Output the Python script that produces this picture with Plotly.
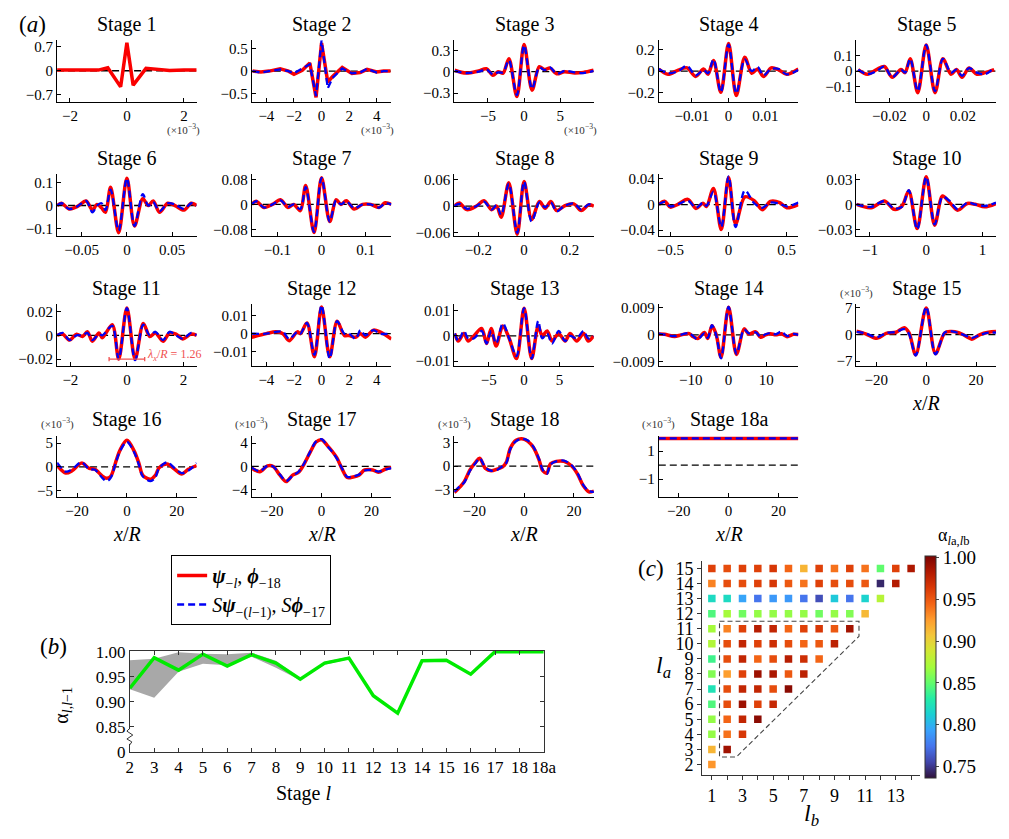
import plotly.graph_objects as go

W, H = 1009, 839
SERIF = "Liberation Serif, Times New Roman, DejaVu Serif, serif"
MINUS = "\u2212"
RED = "rgb(250,0,0)"
BLUE = "rgb(0,0,245)"

# ---------------- Panel (a): wavelets (x/R, amplitude) ----------------
# stages 1-3: x in units of 1e-3 ; stages 15-18a: amplitude in units of 1e-3
s1_x = [-2.45, -2.0, -1.5, -1.0, -0.67, -0.22, 0.0, 0.22, 0.67, 1.0, 1.5, 2.0, 2.45]
s1_red = [0.02, 0.02, 0.01, 0.02, 0.09, -0.47, 0.82, -0.42, 0.07, 0.04, 0.01, 0.02, 0.02]

s2_x = [-5.0, -4.4, -3.8, -3.0, -2.4, -2.0, -1.4, -0.85, -0.4, 0.0, 0.45, 0.8, 1.5, 2.2, 2.8, 3.3, 4.0, 4.5, 5.0]
s2_red = [0.0, -0.02, 0.0, 0.05, 0.0, -0.07, 0.02, 0.18, -0.58, 0.62, -0.24, -0.12, 0.08, -0.05, -0.03, 0.04, -0.02, 0.0, 0.0]
s2_blue = [0.0, -0.03, 0.0, 0.04, 0.0, -0.05, 0.06, 0.15, -0.55, 0.68, -0.38, -0.15, 0.06, -0.05, -0.03, 0.05, -0.03, 0.0, 0.0]

s3_x = [-9.6, -8.0, -6.3, -5.2, -4.3, -3.6, -2.9, -2.1, -1.0, 0.0, 1.1, 2.1, 2.8, 3.6, 4.5, 5.6, 7.0, 8.2, 9.6]
s3_red = [0.02, -0.02, 0.01, 0.04, -0.05, 0.0, -0.02, 0.18, -0.35, 0.38, -0.26, 0.07, 0.03, 0.05, -0.03, 0.0, -0.02, -0.01, 0.02]
s3_blue = [0.01, -0.02, 0.0, 0.03, -0.04, -0.01, -0.01, 0.16, -0.33, 0.37, -0.24, 0.06, 0.02, 0.06, -0.03, 0.01, -0.01, -0.02, 0.01]

s4_x = [-0.019, -0.0165, -0.0137, -0.0113, -0.009, -0.0068, -0.0056, -0.0041, -0.0021, 0.0, 0.0021, 0.0044, 0.0063, 0.0079, 0.0095, 0.0116, 0.0137, 0.0158, 0.019]
s4_red = [0.02, -0.03, 0.01, 0.03, -0.05, 0.02, -0.03, 0.1, -0.2, 0.26, -0.23, 0.13, -0.02, 0.02, -0.05, 0.03, 0.01, -0.03, 0.02]
s4_blue = [0.02, -0.02, 0.0, 0.05, -0.04, 0.01, -0.02, 0.11, -0.2, 0.25, -0.21, 0.11, 0.0, 0.04, -0.04, 0.02, 0.02, -0.03, 0.01]

s5_x = [-0.037, -0.032, -0.027, -0.0228, -0.0185, -0.0137, -0.0115, -0.0087, -0.0046, 0.0, 0.0048, 0.0091, 0.0135, 0.0165, 0.0195, 0.0233, 0.0276, 0.032, 0.037]
s5_red = [0.01, -0.02, 0.01, 0.03, -0.04, 0.01, -0.01, 0.08, -0.14, 0.17, -0.14, 0.08, -0.02, 0.01, -0.04, 0.02, -0.02, -0.01, 0.01]
s5_blue = [0.01, -0.02, 0.0, 0.03, -0.04, 0.01, -0.01, 0.08, -0.13, 0.17, -0.13, 0.08, -0.01, 0.01, -0.03, 0.02, -0.01, -0.02, 0.02]

s6_x = [-0.077, -0.072, -0.064, -0.055, -0.045, -0.038, -0.033, -0.028, -0.0236, -0.018, -0.0091, 0.0, 0.0084, 0.0175, 0.0236, 0.029, 0.036, 0.045, 0.053, 0.063, 0.071, 0.077]
s6_red = [0.0, 0.01, -0.015, -0.005, 0.02, -0.02, 0.005, -0.01, -0.03, 0.08, -0.12, 0.12, -0.09, 0.03, 0.0, 0.02, -0.03, 0.01, 0.0, -0.02, 0.01, 0.0]
s6_blue = [0.0, 0.01, -0.015, -0.005, 0.02, -0.03, 0.0, 0.01, -0.02, 0.07, -0.11, 0.12, -0.09, 0.05, 0.0, 0.015, -0.025, 0.01, 0.005, -0.015, 0.01, 0.0]

s7_x = [-0.158, -0.148, -0.13, -0.111, -0.093, -0.076, -0.063, -0.048, -0.036, -0.017, 0.0, 0.0185, 0.033, 0.044, 0.056, 0.074, 0.093, 0.111, 0.13, 0.144, 0.158]
s7_red = [0.0, 0.01, -0.01, 0.0, 0.015, -0.01, 0.0, -0.02, 0.06, -0.09, 0.085, -0.055, 0.015, 0.0, 0.012, -0.015, 0.0, 0.0, -0.01, 0.005, 0.0]
s7_blue = [0.0, 0.01, -0.01, 0.0, 0.013, -0.008, 0.0, -0.015, 0.055, -0.088, 0.085, -0.055, 0.013, 0.0, 0.01, -0.012, 0.0, 0.0, -0.01, 0.003, 0.0]

s8_x = [-0.305, -0.283, -0.25, -0.208, -0.175, -0.142, -0.12, -0.1, -0.067, -0.03, 0.0, 0.033, 0.067, 0.092, 0.117, 0.142, 0.175, 0.217, 0.25, 0.283, 0.305]
s8_red = [0.0, 0.007, -0.008, 0.0, 0.012, -0.008, 0.0, -0.025, 0.052, -0.063, 0.055, -0.03, 0.01, -0.005, 0.01, -0.01, 0.0, 0.005, -0.01, 0.003, 0.0]
s8_blue = [0.0, 0.005, -0.006, 0.0, 0.01, -0.008, 0.002, -0.02, 0.05, -0.06, 0.055, -0.035, 0.008, -0.003, 0.008, -0.012, 0.0, 0.006, -0.008, 0.004, 0.0]

s9_x = [-0.6, -0.55, -0.5, -0.44, -0.35, -0.28, -0.22, -0.19, -0.13, -0.063, 0.0, 0.06, 0.14, 0.22, 0.29, 0.36, 0.44, 0.5, 0.6]
s9_red = [0.0, 0.005, -0.004, 0.0, 0.008, -0.006, 0.002, -0.003, 0.025, -0.039, 0.042, -0.03, 0.012, 0.006, -0.008, 0.005, 0.003, -0.005, 0.0]
s9_blue = [0.0, 0.004, -0.003, 0.0, 0.006, -0.005, 0.003, -0.002, 0.02, -0.035, 0.044, -0.035, 0.022, 0.002, -0.005, 0.003, 0.001, -0.003, 0.003]

s10_x = [-1.24, -0.98, -0.74, -0.57, -0.43, -0.31, -0.16, 0.0, 0.15, 0.29, 0.42, 0.56, 0.73, 0.87, 1.04, 1.24]
s10_red = [0.0, -0.004, 0.004, -0.006, -0.002, 0.016, -0.029, 0.033, -0.025, 0.01, 0.002, -0.007, 0.001, 0.0, -0.003, 0.001]
s10_blue = [0.0, -0.003, 0.004, -0.005, -0.003, 0.017, -0.03, 0.033, -0.024, 0.009, 0.004, -0.006, 0.002, 0.0, -0.002, 0.002]

s11_x = [-2.47, -2.27, -2.03, -1.78, -1.57, -1.4, -1.22, -0.99, -0.87, -0.52, -0.29, 0.0, 0.29, 0.58, 0.81, 1.01, 1.28, 1.51, 1.74, 1.98, 2.27, 2.47]
s11_red = [0.0, 0.001, -0.004, 0.001, -0.001, 0.003, -0.005, 0.002, -0.002, 0.009, -0.02, 0.023, -0.02, 0.01, -0.001, 0.002, -0.005, 0.002, 0.001, -0.003, 0.001, 0.0]
s11_blue = [0.0, 0.002, -0.004, 0.0, 0.0, 0.002, -0.004, 0.001, 0.0, 0.008, -0.02, 0.023, -0.021, 0.009, 0.0, 0.003, -0.004, 0.003, 0.0, -0.003, 0.002, 0.0]

s12_x = [-5.06, -4.0, -3.3, -2.8, -2.35, -1.76, -1.53, -1.06, -0.52, 0.0, 0.59, 1.13, 1.65, 2.0, 2.47, 2.82, 3.18, 3.76, 4.24, 5.06]
s12_red = [-0.002, 0.0, 0.001, 0.0, -0.004, 0.001, 0.0, 0.006, -0.013, 0.015, -0.013, 0.007, -0.001, -0.001, -0.002, 0.0, -0.002, 0.002, 0.001, -0.003]
s12_blue = [0.0, 0.0, 0.001, 0.001, -0.003, 0.001, 0.0, 0.006, -0.012, 0.016, -0.014, 0.007, 0.0, 0.0, -0.003, 0.002, -0.001, 0.002, 0.0, 0.0]

s13_x = [-9.8, -9.3, -8.5, -7.9, -7.1, -6.0, -5.3, -4.65, -3.95, -3.0, -2.1, -1.07, 0.0, 1.07, 2.0, 2.56, 3.26, 3.95, 4.88, 5.8, 6.5, 7.44, 8.4, 9.07, 9.8]
s13_red = [0.001, -0.002, 0.001, -0.002, 0.0, 0.003, -0.003, 0.003, -0.004, 0.004, -0.001, -0.009, 0.011, -0.009, 0.004, 0.0, 0.002, -0.002, 0.001, -0.002, 0.001, -0.002, 0.001, -0.002, 0.0]
s13_blue = [0.001, -0.002, 0.002, -0.001, -0.001, 0.002, -0.003, 0.002, -0.003, 0.005, -0.001, -0.008, 0.011, -0.009, 0.006, -0.001, 0.001, -0.003, 0.002, -0.002, 0.0, -0.001, 0.002, -0.001, 0.0]

s14_x = [-18.5, -17.0, -14.3, -12.5, -10.4, -9.5, -8.2, -6.4, -5.5, -4.4, -3.3, -2.0, 0.0, 2.1, 4.1, 5.4, 7.2, 8.5, 9.8, 11.1, 12.5, 14.0, 15.5, 17.2, 18.5]
s14_red = [0.0003, 0.0002, -0.0005, 0.0, 0.0004, -0.0005, -0.0012, 0.0008, -0.0012, 0.003, 0.0002, -0.0075, 0.0092, -0.0065, 0.002, 0.0003, 0.001, -0.0008, 0.0, 0.0004, 0.0, 0.0004, -0.0006, 0.0002, 0.0001]
s14_blue = [0.0004, 0.0001, -0.0004, 0.0001, 0.0006, -0.0003, -0.0015, 0.0005, -0.001, 0.0032, 0.0, -0.0078, 0.0093, -0.0063, 0.0018, 0.0005, 0.0008, -0.0006, 0.0002, 0.0006, 0.0002, 0.0011, -0.0004, 0.0003, 0.0]

s15_x = [-28.0, -24.3, -19.8, -16.1, -12.1, -8.8, -6.9, -4.2, 0.0, 3.7, 7.4, 9.7, 13.0, 17.0, 18.3, 21.6, 25.0, 28.0]
s15_red = [0.9, 0.2, -1.0, 0.3, 0.6, 1.8, 0.5, -5.3, 7.0, -5.0, 0.4, 0.8, 0.5, -0.8, -1.2, 0.0, 0.6, 0.8]
s15_blue = [0.7, 0.3, -0.7, 0.4, 0.7, 1.4, 0.2, -5.5, 7.3, -5.2, 0.5, 0.9, 0.4, -0.6, -0.9, -0.1, 0.5, 0.5]

s16_x = [-28.0, -24.5, -22.0, -18.2, -15.1, -12.8, -9.7, -8.1, -6.5, -4.2, -2.7, 0.0, 2.8, 4.8, 6.4, 9.5, 11.4, 12.9, 16.1, 19.2, 22.0, 24.6, 28.0]
s16_red = [0.3, -1.3, -0.8, 0.8, -0.3, -0.5, -2.0, -2.4, -2.0, 1.5, 3.6, 5.6, 3.5, 0.8, -1.8, -2.6, -1.8, -0.2, 0.6, -0.5, -1.5, -0.5, 0.3]
s16_blue = [0.9, -1.0, -0.5, 1.0, -0.5, -0.6, -2.4, -3.0, -2.3, 1.3, 3.4, 5.3, 3.2, 0.5, -2.0, -3.0, -2.2, -0.3, 1.0, -0.3, -1.3, -0.8, 0.8]

s17_x = [-28.0, -24.8, -21.7, -19.4, -16.7, -14.2, -11.6, -9.2, -6.9, -4.5, -2.2, 0.0, 2.5, 4.1, 6.1, 8.3, 10.3, 12.7, 15.0, 17.3, 20.5, 22.8, 25.9, 28.0]
s17_red = [-0.3, -0.9, 0.1, 0.0, -1.5, -2.6, -1.5, -1.0, 0.5, 2.5, 4.2, 4.6, 3.5, 2.7, 1.5, -0.5, -1.9, -1.8, -1.5, -0.6, -0.6, -1.0, -0.4, -0.2]
s17_blue = [-0.2, -0.8, 0.1, 0.0, -1.4, -2.5, -1.6, -0.9, 0.6, 2.6, 4.3, 4.7, 3.4, 2.6, 1.4, -0.4, -1.8, -1.7, -1.4, -0.7, -0.6, -0.9, -0.5, -0.3]

s18_x = [-28.0, -25.5, -24.0, -21.7, -19.4, -17.8, -15.5, -13.2, -10.9, -8.6, -7.1, -5.5, -3.2, -0.9, 1.4, 3.7, 6.0, 7.5, 9.1, 10.6, 12.9, 16.0, 19.1, 21.4, 23.7, 26.0, 28.0]
s18_red = [-3.4, -2.6, -2.0, -0.5, 0.5, 1.0, -0.3, -0.6, -0.4, -0.1, 0.5, 2.3, 3.3, 3.5, 3.2, 2.4, 0.8, -0.6, -0.9, 0.3, 0.6, 0.6, 0.0, -1.0, -2.5, -3.3, -3.2]
s18_blue = [-3.3, -2.5, -2.1, -0.6, 0.4, 1.0, -0.2, -0.6, -0.5, 0.0, 0.4, 2.2, 3.2, 3.5, 3.3, 2.5, 0.9, -0.5, -1.0, 0.2, 0.6, 0.7, 0.1, -0.9, -2.4, -3.2, -3.3]

s18a_x = [-28.0, 28.0]
s18a_red = [1.9, 1.9]
s18a_blue = [1.9, 1.9]

stage_names = ["1", "2", "3", "4", "5", "6", "7", "8", "9", "10",
               "11", "12", "13", "14", "15", "16", "17", "18", "18a"]
stage_series = [
    (s1_x, s1_red, None), (s2_x, s2_red, s2_blue), (s3_x, s3_red, s3_blue),
    (s4_x, s4_red, s4_blue), (s5_x, s5_red, s5_blue), (s6_x, s6_red, s6_blue),
    (s7_x, s7_red, s7_blue), (s8_x, s8_red, s8_blue), (s9_x, s9_red, s9_blue),
    (s10_x, s10_red, s10_blue), (s11_x, s11_red, s11_blue), (s12_x, s12_red, s12_blue),
    (s13_x, s13_red, s13_blue), (s14_x, s14_red, s14_blue), (s15_x, s15_red, s15_blue),
    (s16_x, s16_red, s16_blue), (s17_x, s17_red, s17_blue), (s18_x, s18_red, s18_blue),
    (s18a_x, s18a_red, s18a_blue),
]
# axis ranges and tick values per stage
x_half = [2.45, 5.06, 9.65, 0.019, 0.038, 0.077, 0.158, 0.305, 0.6, 1.24,
          2.47, 5.06, 9.86, 18.5, 28, 28, 28, 28, 28]
y_lo = [-0.91, -0.68, -0.425, -0.29, -0.2, -0.134, -0.101, -0.067, -0.049, -0.038,
        -0.026, -0.0183, -0.012, -0.0104, -8.3, -6.4, -5.3, -4.0, -2.3]
y_hi = [0.89, 0.68, 0.44, 0.29, 0.2, 0.137, 0.096, 0.071, 0.047, 0.036,
        0.026, 0.0164, 0.0125, 0.0101, 7.9, 6.6, 5.3, 3.9, 2.1]
x_ticks = [[-2, 0, 2], [-4, -2, 0, 2, 4], [-5, 0, 5], [-0.01, 0, 0.01], [-0.02, 0, 0.02],
           [-0.05, 0, 0.05], [-0.1, 0, 0.1], [-0.2, 0, 0.2], [-0.5, 0, 0.5], [-1, 0, 1],
           [-2, 0, 2], [-4, -2, 0, 2, 4], [-5, 0, 5], [-10, 0, 10], [-20, 0, 20],
           [-20, 0, 20], [-20, 0, 20], [-20, 0, 20], [-20, 0, 20]]
y_ticks = [[-0.7, 0, 0.7], [-0.5, 0, 0.5], [-0.3, 0, 0.3], [-0.2, 0, 0.2], [-0.1, 0, 0.1],
           [-0.1, 0, 0.1], [-0.08, 0, 0.08], [-0.06, 0, 0.06], [-0.04, 0, 0.04], [-0.03, 0, 0.03],
           [-0.02, 0, 0.02], [-0.01, 0, 0.01], [-0.01, 0, 0.01], [-0.009, 0, 0.009], [-7, 0, 7],
           [-5, 0, 5], [-4, 0, 4], [-3, 0, 3], [-1, 1]]
lambda_x = 1.26  # wavelength marked in stage 11

# ---------------- Panel (b) data ----------------
b_stages = ["2", "3", "4", "5", "6", "7", "8", "9", "10", "11", "12", "13",
            "14", "15", "16", "17", "18", "18a"]
b_alpha = [0.927, 0.988, 0.963, 0.995, 0.971, 0.994, 0.977, 0.945, 0.977, 0.987,
           0.912, 0.877, 0.982, 0.983, 0.955, 1.0, 1.0, 1.0]
band_stages = ["2", "3", "4", "5", "6", "7", "8", "9", "10", "11"]
band_lo = [0.925, 0.908, 0.96, 0.976, 0.973, 0.99, 0.968, 0.943, 0.974, 0.985]
band_hi = [0.983, 0.986, 0.999, 0.996, 0.995, 0.998, 0.982, 0.947, 0.98, 0.99]

# ---------------- Panel (c) data: alpha_{la,lb}, lb = 1..la-1 ----------------
alpha_2 = [0.928]
alpha_3 = [0.915, 0.989]
alpha_4 = [0.865, 0.94, 0.965]
alpha_5 = [0.865, 0.945, 0.975, 0.996]
alpha_6 = [0.845, 0.955, 0.99, 0.96, 0.973]
alpha_7 = [0.825, 0.955, 0.975, 0.975, 0.955, 0.996]
alpha_8 = [0.86, 0.925, 0.96, 0.99, 0.985, 0.95, 0.978]
alpha_9 = [0.84, 0.955, 0.975, 0.945, 0.955, 0.98, 0.97, 0.945]
alpha_10 = [0.875, 0.955, 0.975, 0.96, 0.97, 0.955, 0.945, 0.95, 0.978]
alpha_11 = [0.87, 0.935, 0.96, 0.98, 0.975, 0.945, 0.96, 0.965, 0.95, 0.988]
alpha_12 = [0.845, 0.87, 0.855, 0.865, 0.865, 0.865, 0.865, 0.855, 0.865, 0.86, 0.913]
alpha_13 = [0.82, 0.82, 0.795, 0.775, 0.79, 0.79, 0.775, 0.76, 0.81, 0.775, 0.815, 0.877]
alpha_14 = [0.935, 0.955, 0.955, 0.96, 0.965, 0.95, 0.94, 0.96, 0.955, 0.955, 0.95, 0.745, 0.982]
alpha_15 = [0.96, 0.955, 0.96, 0.96, 0.965, 0.945, 0.915, 0.96, 0.94, 0.96, 0.94, 0.85, 0.96, 0.984]
alpha_rows = [alpha_2, alpha_3, alpha_4, alpha_5, alpha_6, alpha_7, alpha_8, alpha_9,
              alpha_10, alpha_11, alpha_12, alpha_13, alpha_14, alpha_15]
cb_ticks = [0.75, 0.80, 0.85, 0.90, 0.95, 1.00]
BLOCK_FIRST, BLOCK_LAST = 2, 11


# ---------------- helpers ----------------
def px(x):
    return x / W


def py(y):
    return 1 - y / H


def fmt(v):
    if v == 0:
        return "0"
    s = f"{abs(v):g}"
    return (MINUS + s) if v < 0 else s


def note(x, y, text, size, color="black", xanchor="center", angle=0):
    return dict(x=px(x), y=py(y), xref="paper", yref="paper", text=text, showarrow=False,
                font=dict(family=SERIF, size=size, color=color), xanchor=xanchor,
                yanchor="middle", textangle=angle)


fig = go.Figure()
layout = {}
annotations = []
shapes = []

col_left = [54, 252, 458, 666, 867]
row_top = [33, 170, 303, 437]
PW, PH = 142, 63
tickfont_a = dict(family=SERIF, size=15, color="black")

for k, name in enumerate(stage_names):
    n = k + 1
    r, c = divmod(k, 5)
    L, T = col_left[c], row_top[r]
    xa = "x" if n == 1 else f"x{n}"
    ya = "y" if n == 1 else f"y{n}"
    xs, rs, bs = stage_series[k]
    layout["xaxis" if n == 1 else f"xaxis{n}"] = dict(
        domain=[px(L), px(L + PW)], anchor=ya, range=[-x_half[k], x_half[k]],
        showline=True, linecolor="black", linewidth=1, ticks="inside", ticklen=4,
        tickcolor="black", tickvals=x_ticks[k], ticktext=[fmt(v) for v in x_ticks[k]],
        showgrid=False, zeroline=False, tickfont=tickfont_a)
    layout["yaxis" if n == 1 else f"yaxis{n}"] = dict(
        domain=[py(T + PH), py(T)], anchor=xa, range=[y_lo[k], y_hi[k]],
        showline=True, linecolor="black", linewidth=1, ticks="inside", ticklen=4,
        tickcolor="black", tickvals=y_ticks[k], ticktext=[fmt(v) for v in y_ticks[k]],
        showgrid=False, zeroline=False, tickfont=tickfont_a)
    shapes.append(dict(type="line", xref=f"{xa} domain", x0=0, x1=1, yref=ya, y0=0, y1=0,
                       line=dict(color="black", width=1.3, dash="7px,4px"), layer="below"))
    shape = "linear" if n <= 2 else "spline"
    fig.add_trace(go.Scatter(
        x=xs, y=rs, xaxis=xa, yaxis=ya, mode="lines",
        line=dict(color=RED, width=3.5, shape=shape, smoothing=0.9),
        name="<b><i>ψ</i></b><sub>−<i>l</i></sub>, <b><i>ϕ</i></b><sub>−18</sub>",
        legendrank=1, showlegend=(n == 1), hoverinfo="skip"))
    if bs is not None:
        fig.add_trace(go.Scatter(
            x=xs, y=bs, xaxis=xa, yaxis=ya, mode="lines",
            line=dict(color=BLUE, width=2.3, dash="7px,4px", shape=shape, smoothing=0.9),
            name="<i>S</i><b><i>ψ</i></b><sub>−(<i>l</i>−1)</sub>, <i>S</i><b><i>ϕ</i></b><sub>−17</sub>",
            legendrank=2, showlegend=(n == 2), hoverinfo="skip"))
    annotations.append(note(L + PW / 2, T - 16, f"Stage {name}", 20))
    if n <= 3:
        annotations.append(note(L + PW + 5, T + PH + 28, "(×10<sup>−3</sup>)", 11, "#333", "right"))
    if n >= 15:
        annotations.append(note(L, T - 12, "(×10<sup>−3</sup>)", 11, "#333"))
        annotations.append(note(L + PW / 2, T + PH + 38, "<i>x</i>/<i>R</i>", 20))
    if n == 11:
        lam_col = "rgb(240,80,80)"
        yb = y_ticks[k][0]
        shapes.append(dict(type="line", xref=xa, yref=ya, x0=-lambda_x / 2, x1=lambda_x / 2,
                           y0=yb, y1=yb, line=dict(color=lam_col, width=1.3)))
        for xe in (-lambda_x / 2, lambda_x / 2):
            shapes.append(dict(type="line", xref=xa, yref=ya, x0=xe, x1=xe,
                               y0=yb - 0.0018, y1=yb + 0.0018, line=dict(color=lam_col, width=1.3)))
        annotations.append(dict(x=lambda_x / 2 + 0.02, y=yb + 0.003, xref=xa, yref=ya,
                                text=f"<i>λ<sub>x</sub></i>/<i>R</i> = {lambda_x}", showarrow=False,
                                font=dict(family=SERIF, size=12, color=lam_col),
                                xanchor="left", yanchor="middle"))

# ---------------- Panel (b) ----------------
fig.add_trace(go.Scatter(x=band_stages, y=band_lo, xaxis="x20", yaxis="y20", mode="lines",
                         line=dict(width=0, color="#a8a8a8"), showlegend=False, hoverinfo="skip"))
fig.add_trace(go.Scatter(x=band_stages, y=band_hi, xaxis="x20", yaxis="y20", mode="lines",
                         line=dict(width=0, color="#a8a8a8"), fill="tonexty",
                         fillcolor="#a8a8a8", showlegend=False, hoverinfo="skip"))
fig.add_trace(go.Scatter(x=b_stages, y=b_alpha, xaxis="x20", yaxis="y20", mode="lines",
                         line=dict(width=3.5, color="rgb(0,235,0)"), showlegend=False,
                         hoverinfo="skip"))
BL, BR, BT, BB = 128, 549, 657, 760
tickfont_b = dict(family=SERIF, size=17, color="black")
layout["xaxis20"] = dict(domain=[px(BL), px(BR)], anchor="y20", type="category",
                         categoryorder="array", categoryarray=b_stages, range=[0, len(b_stages) - 1],
                         showline=True, linecolor="#333", linewidth=1, mirror="ticks",
                         ticks="inside", ticklen=4, tickcolor="#333", showgrid=False,
                         zeroline=False, tickfont=tickfont_b)
b_yticks = [0.80, 0.85, 0.90, 0.95, 1.00]
layout["yaxis20"] = dict(domain=[py(BB), py(BT)], anchor="x20", range=[0.80, 1.0015],
                         showline=True, linecolor="#333", linewidth=1, mirror="ticks",
                         ticks="inside", ticklen=4, tickcolor="#333", showgrid=False,
                         zeroline=False, tickvals=b_yticks,
                         ticktext=["0", "0.85", "0.90", "0.95", "1.00"], tickfont=tickfont_b)
# axis break symbol
shapes.append(dict(type="line", xref="paper", yref="paper", x0=px(BL), x1=px(BL),
                   y0=py(737), y1=py(752), line=dict(color="white", width=3)))
shapes.append(dict(type="path", xref="paper", yref="paper",
                   path=(f"M{px(BL)},{py(736)} L{px(BL - 3)},{py(739)} L{px(BL + 3)},{py(743)} "
                         f"L{px(BL - 3)},{py(747)} L{px(BL + 2)},{py(750)} L{px(BL)},{py(753)}"),
                   line=dict(color="#333", width=1)))
annotations.append(note(305, 803, "Stage <i>l</i>", 20))
annotations.append(note(60, 712, "α<sub><i>l</i>,<i>l</i>−1</sub>", 20, angle=-90))

# ---------------- Panel (c) ----------------
c_lb, c_la, c_val = [], [], []
for i, row in enumerate(alpha_rows):
    la = i + 2
    for j, v in enumerate(row):
        c_lb.append(j + 1)
        c_la.append(la)
        c_val.append(v)
CL, CR, CT, CB = 710, 932, 565, 784
fig.add_trace(go.Scatter(
    x=c_lb, y=c_la, xaxis="x21", yaxis="y21", mode="markers", showlegend=False,
    hoverinfo="skip",
    marker=dict(symbol="square", size=7.5, color=c_val, colorscale="Turbo", cmin=0.737, cmax=1.002,
                line=dict(width=0),
                colorbar=dict(x=px(937), xanchor="left", y=py(673), yanchor="middle",
                              len=222, lenmode="pixels", thickness=11, thicknessmode="pixels",
                              outlinewidth=1, outlinecolor="#333", ticks="outside", ticklen=3,
                              tickvals=cb_ticks, ticktext=[f"{v:.2f}" for v in cb_ticks],
                              tickfont=dict(family=SERIF, size=19, color="black"),
                              xpad=0, ypad=0))))
tickfont_c = dict(family=SERIF, size=18, color="black")
lb_ticks = list(range(1, 15))
layout["xaxis21"] = dict(domain=[px(CL), px(CR)], anchor="y21", range=[0.36, 14.6],
                         showline=True, linecolor="#333", linewidth=1, ticks="outside", ticklen=4,
                         tickcolor="#333", tickvals=lb_ticks,
                         ticktext=[str(v) if v % 2 == 1 else "" for v in lb_ticks],
                         showgrid=False, zeroline=False, tickfont=tickfont_c)
la_ticks = list(range(2, 16))
layout["yaxis21"] = dict(domain=[py(CB), py(CT)], anchor="x21", range=[1.29, 15.5],
                         showline=True, linecolor="#333", linewidth=1, ticks="outside", ticklen=4,
                         tickcolor="#333", tickvals=la_ticks, ticktext=[str(v) for v in la_ticks],
                         showgrid=False, zeroline=False, tickfont=tickfont_c)
bx0, by0 = BLOCK_FIRST - 0.5, BLOCK_FIRST + 0.5
bxr, byt = BLOCK_LAST - 0.4, BLOCK_LAST + 0.5
shapes.append(dict(type="path", xref="x21", yref="y21",
                   path=(f"M{bx0},{byt} L{bxr},{byt} L{bxr},{byt - 1} "
                         f"L{bx0 + 1.1},{by0} L{bx0},{by0} Z"),
                   line=dict(color="#444", width=1.1, dash="5px,3px")))
annotations.append(note(671, 673, "<i>l<sub>a</sub></i>", 24))
annotations.append(note(821, 825, "<i>l<sub>b</sub></i>", 24))
annotations.append(note(966, 540, "α<sub><i>l</i>a,<i>l</i>b</sub>", 18))

# panel labels
for lab, xx, yy in (("a", 29, 17), ("b", 50, 653), ("c", 658, 573)):
    annotations.append(note(xx, yy, f"(<i>{lab}</i>)", 23))

fig.update_layout(
    width=W, height=H, autosize=False,
    margin=dict(l=0, r=0, t=0, b=0),
    paper_bgcolor="white", plot_bgcolor="rgba(0,0,0,0)",
    font=dict(family=SERIF, size=15, color="black"),
    showlegend=True,
    legend=dict(x=px(170), y=py(559), xanchor="left", yanchor="top", bordercolor="black",
                borderwidth=1, bgcolor="white", font=dict(family=SERIF, size=20, color="black"),
                tracegroupgap=0, traceorder="normal"),
    annotations=annotations, shapes=shapes,
    **layout,
)

fig.write_html("out.html")
